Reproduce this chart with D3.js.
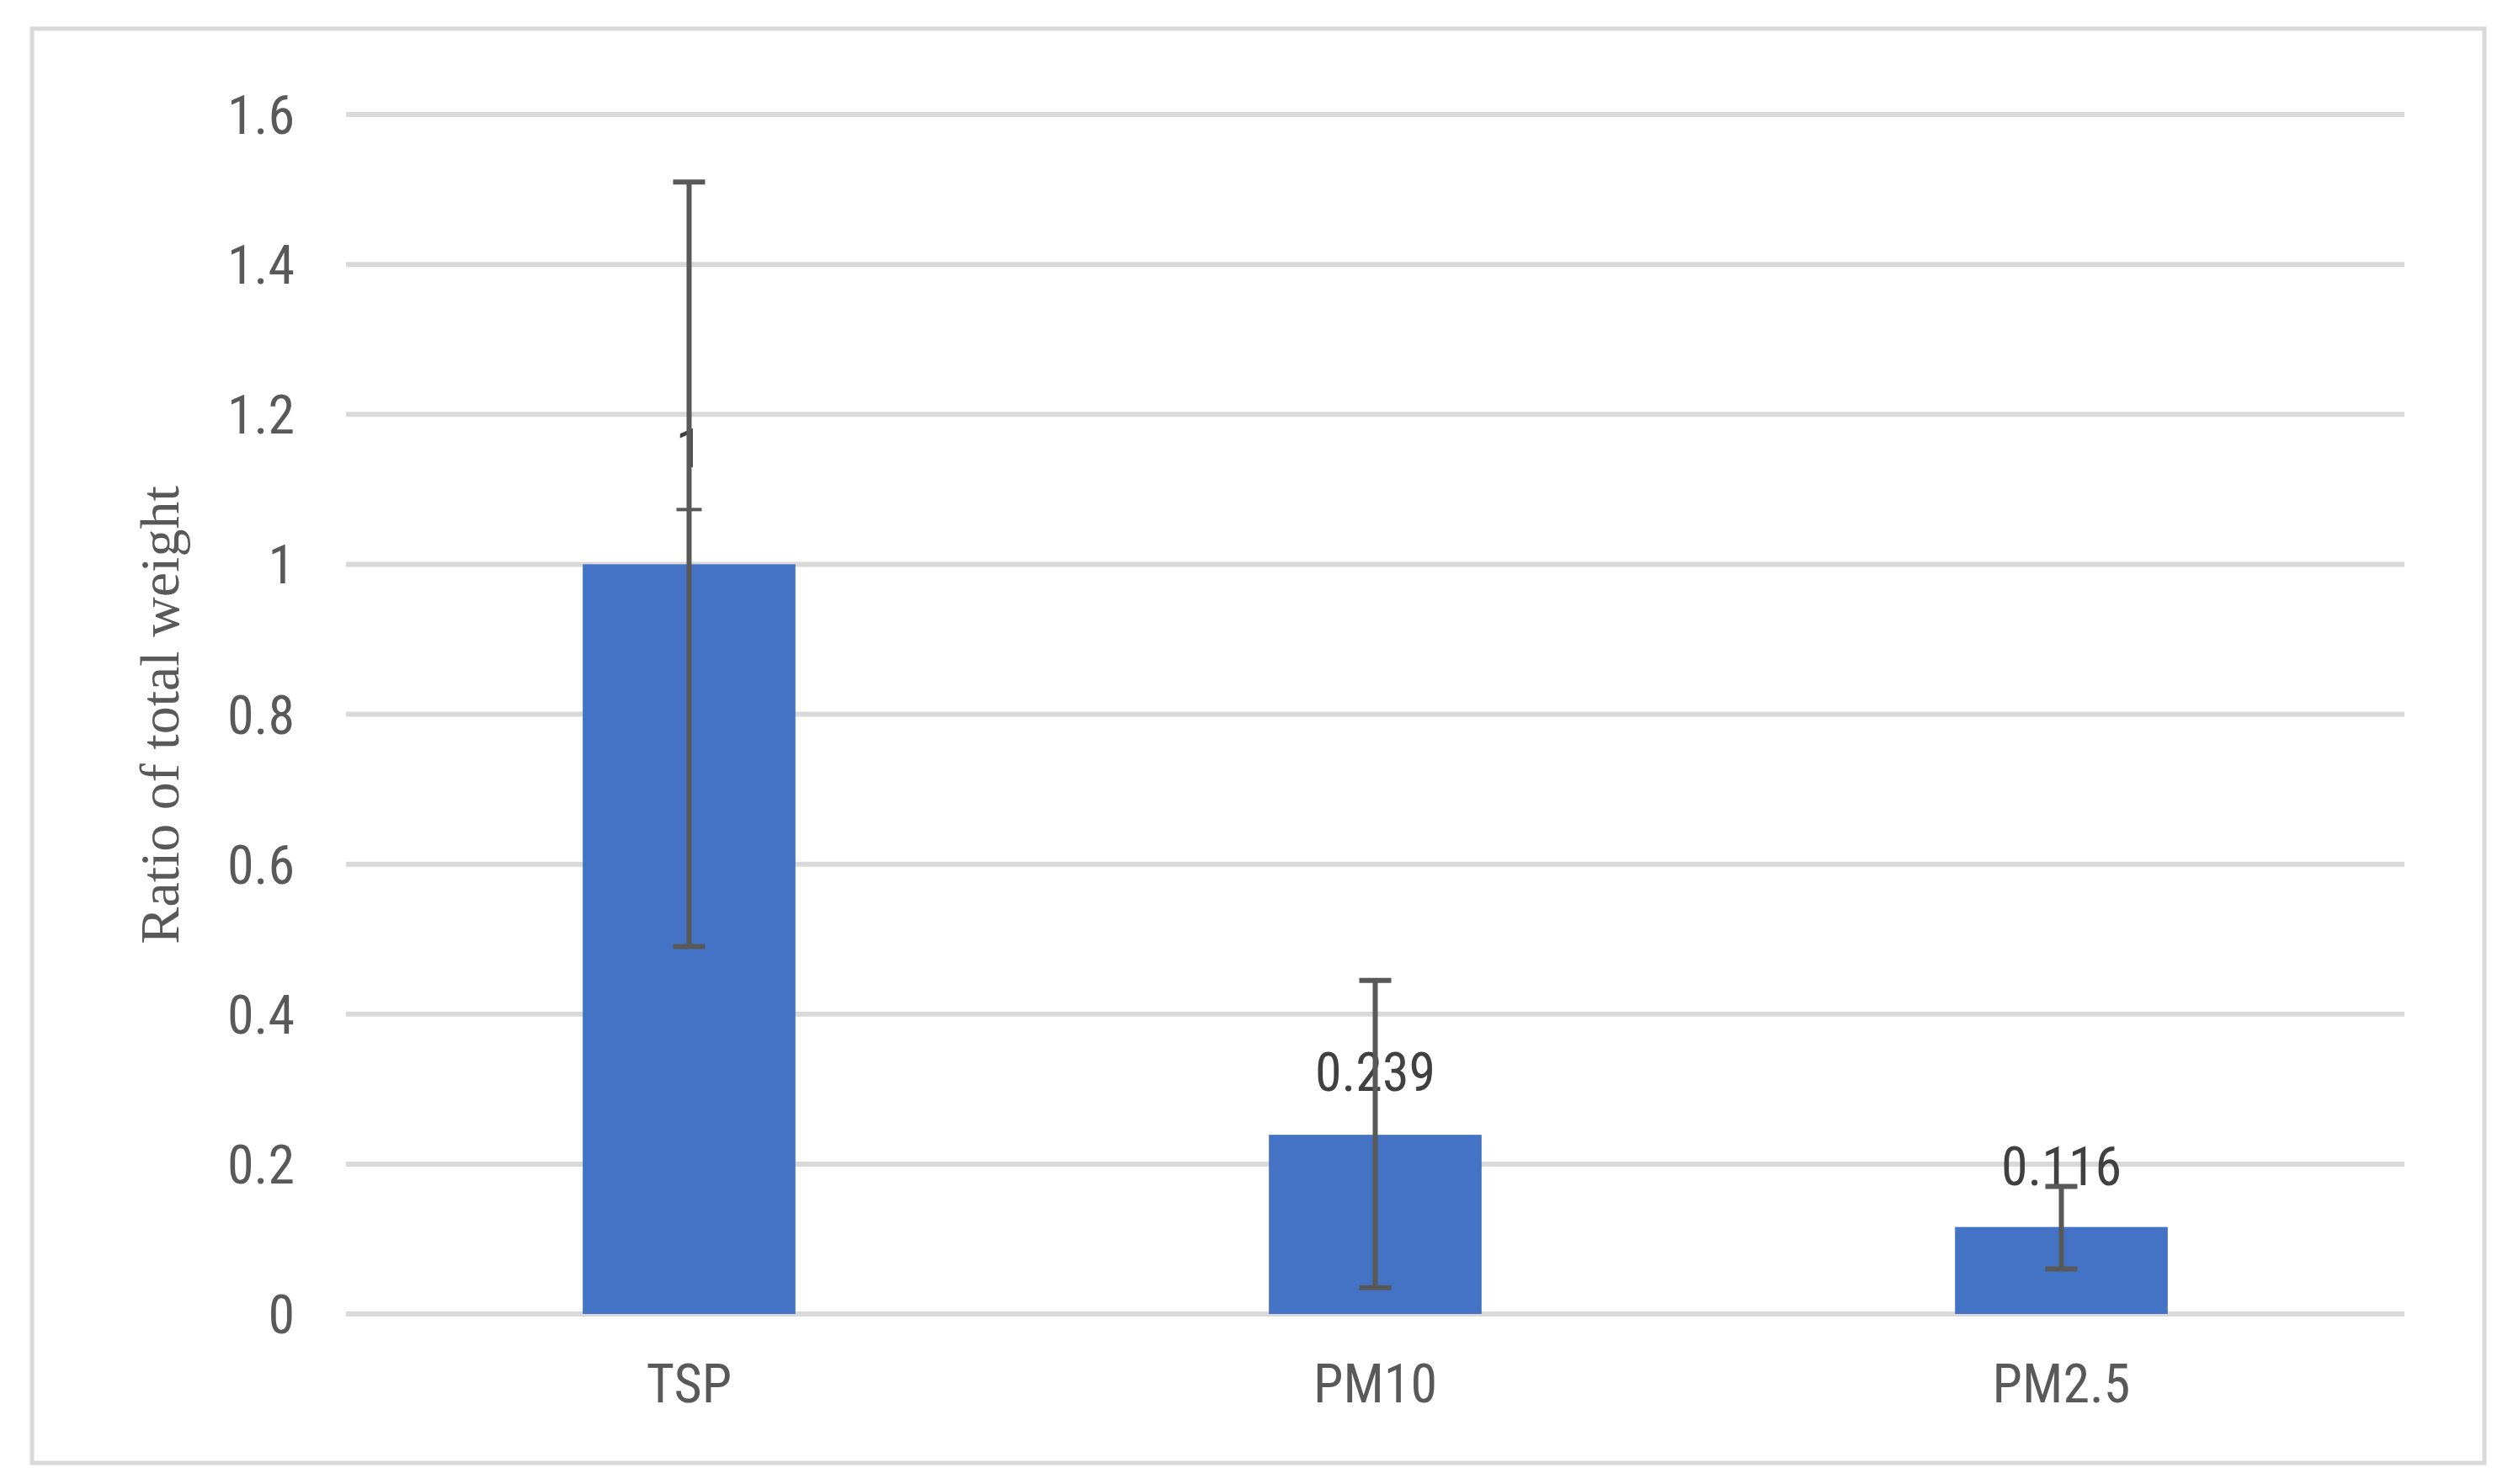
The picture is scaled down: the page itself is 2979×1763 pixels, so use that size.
<!DOCTYPE html>
<html>
<head>
<meta charset="utf-8">
<script src="https://cdn.jsdelivr.net/npm/d3@7"></script>
<style>
  body { margin: 0; background: #fff; }
</style>
</head>
<body>
<div id="chart"></div>
<script>
const categories = ["TSP", "PM10", "PM2.5"];
const values = [1, 0.239, 0.116];
const errLow = [0.49, 0.035, 0.06];
const errHigh = [1.51, 0.445, 0.17];
const yTicks = [0, 0.2, 0.4, 0.6, 0.8, 1, 1.2, 1.4, 1.6];

const width = 2979, height = 1763;
const margin = { left: 411, right: 2979 - 2856, top: 136, bottom: 1763 - 1561 };

const svg = d3.select("#chart").append("svg")
  .attr("width", width)
  .attr("height", height);

// outer frame
svg.append("rect")
  .attr("x", 38).attr("y", 34)
  .attr("width", 2913).attr("height", 1704)
  .attr("fill", "#fff")
  .attr("stroke", "#d9d9d9")
  .attr("stroke-width", 5);

const x = d3.scaleBand()
  .domain(categories)
  .range([margin.left, width - margin.right])
  .paddingInner(0.69)
  .paddingOuter(0.345);

const y = d3.scaleLinear()
  .domain([0, 1.6])
  .range([height - margin.bottom, margin.top]);

// gridlines
svg.append("g")
  .selectAll("line")
  .data(yTicks)
  .enter().append("line")
  .attr("x1", margin.left)
  .attr("x2", width - margin.right)
  .attr("y1", d => y(d))
  .attr("y2", d => y(d))
  .attr("stroke", "#d9d9d9")
  .attr("stroke-width", 6);

const labelFont = "'Liberation Sans Narrow', 'Roboto Condensed', 'Liberation Sans', sans-serif";

// y tick labels
svg.append("g")
  .selectAll("text")
  .data(yTicks)
  .enter().append("text")
  .attr("x", 350)
  .attr("y", d => y(d))
  .attr("dy", "0.36em")
  .attr("text-anchor", "end")
  .attr("font-family", labelFont)
  .attr("font-size", 64)
  .attr("fill", "#595959")
  .text(d => d);

// bars
const data = categories.map((c, i) => ({ c, v: values[i], lo: errLow[i], hi: errHigh[i] }));

svg.append("g")
  .selectAll("rect")
  .data(data)
  .enter().append("rect")
  .attr("x", d => x(d.c))
  .attr("y", d => y(d.v))
  .attr("width", x.bandwidth())
  .attr("height", d => y(0) - y(d.v))
  .attr("fill", "#4472c4");

// data labels
svg.append("g")
  .selectAll("text")
  .data(data)
  .enter().append("text")
  .attr("x", d => x(d.c) + x.bandwidth() / 2)
  .attr("y", (d, i) => i === 0 ? y(d.hi) + 0 : y(d.v) - 0)
  .attr("transform", (d, i) => i === 0 ? `translate(0, ${y(1.13) - y(d.hi)})` : `translate(0, ${i === 1 ? -52 : -50})`)
  .attr("text-anchor", "middle")
  .attr("font-family", labelFont)
  .attr("font-size", 64)
  .attr("fill", "#404040")
  .text(d => d.v);

// error bars
const eb = svg.append("g")
  .attr("stroke", "#595959")
  .attr("stroke-width", 6);
data.forEach(d => {
  const cx = x(d.c) + x.bandwidth() / 2;
  eb.append("line").attr("x1", cx).attr("x2", cx).attr("y1", y(d.lo)).attr("y2", y(d.hi));
  [d.lo, d.hi].forEach(v => {
    eb.append("line").attr("x1", cx - 19).attr("x2", cx + 19).attr("y1", y(v)).attr("y2", y(v));
  });
});
// small stray mark under the TSP label
eb.append("line")
  .attr("x1", x("TSP") + x.bandwidth() / 2 - 15)
  .attr("x2", x("TSP") + x.bandwidth() / 2 + 15)
  .attr("y1", y(1.073)).attr("y2", y(1.073))
  .attr("stroke-width", 4);

// category labels
svg.append("g")
  .selectAll("text")
  .data(categories)
  .enter().append("text")
  .attr("x", d => x(d) + x.bandwidth() / 2)
  .attr("y", 1643)
  .attr("dy", "0.36em")
  .attr("text-anchor", "middle")
  .attr("font-family", labelFont)
  .attr("font-size", 64)
  .attr("fill", "#595959")
  .text(d => d);

// y axis title
svg.append("text")
  .attr("transform", `translate(212, ${(y(0.2) + y(1.6)) / 2 + 90}) rotate(-90)`)
  .attr("text-anchor", "middle")
  .attr("font-family", "'Liberation Serif', 'Times New Roman', serif")
  .attr("font-size", 66)
  .attr("fill", "#595959")
  .text("Ratio of total weight");
</script>
</body>
</html>
